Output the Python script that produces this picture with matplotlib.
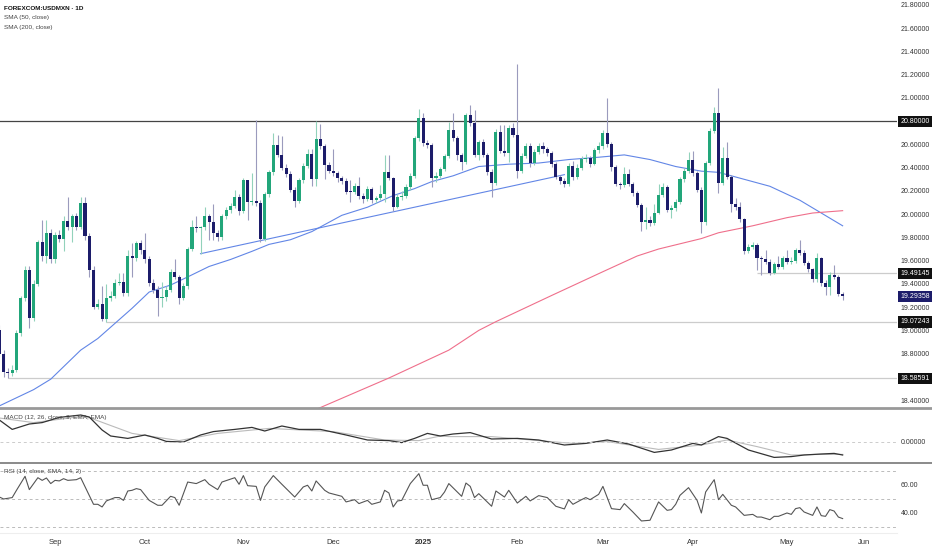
import numpy as np
import pandas as pd
import matplotlib
matplotlib.use('Agg')
import matplotlib.pyplot as plt
from matplotlib.lines import Line2D
from matplotlib.transforms import blended_transform_factory

# 1. Данные
dates = pd.bdate_range('2024-08-14', '2025-05-20')
dates = dates[~dates.isin(pd.to_datetime(['2024-12-25', '2025-01-01']))]

first_open = 19.00
closes = [
    18.80, 18.64, 18.63, 18.66, 18.98, 19.28, 19.52, 19.11, 19.40, 19.76,
    19.64, 19.84, 19.61, 19.82, 19.79, 19.94, 19.89, 19.98, 19.89, 20.10,
    19.81, 19.52, 19.20, 19.23, 19.10, 19.28, 19.30, 19.41, 19.42, 19.32,
    19.64, 19.62, 19.75, 19.69, 19.61, 19.41, 19.35, 19.275, 19.29, 19.35,
    19.50, 19.46, 19.28, 19.38, 19.70, 19.89, 19.88, 19.886, 19.98, 19.93,
    19.84, 19.80, 19.98, 20.035, 20.07, 20.15, 20.03, 20.29, 20.107, 20.11,
    20.10, 19.79, 20.17, 20.36, 20.595, 20.51, 20.40, 20.345, 20.21, 20.116,
    20.29, 20.414, 20.52, 20.30, 20.65, 20.586, 20.423, 20.374, 20.351, 20.308,
    20.288, 20.193, 20.19, 20.242, 20.156, 20.127, 20.214, 20.122, 20.136, 20.173,
    20.366, 20.308, 20.064, 20.15, 20.16, 20.236, 20.328, 20.652, 20.825, 20.609,
    20.595, 20.308, 20.33, 20.386, 20.50, 20.724, 20.653, 20.51, 20.452, 20.853,
    20.782, 20.509, 20.624, 20.509, 20.366, 20.271, 20.710, 20.546, 20.53, 20.738,
    20.681, 20.374, 20.503, 20.589, 20.437, 20.538, 20.586, 20.558, 20.523, 20.432,
    20.317, 20.288, 20.259, 20.414, 20.317, 20.40, 20.472, 20.48, 20.432, 20.552,
    20.586, 20.701, 20.604, 20.403, 20.259, 20.248, 20.346, 20.259, 20.18, 20.079,
    19.935, 19.95, 19.927, 20.013, 20.165, 20.236, 20.036, 20.05, 20.107, 20.30,
    20.374, 20.466, 20.351, 20.208, 19.935, 20.437, 20.718, 20.873, 20.265, 20.48,
    20.323, 20.087, 20.064, 19.955, 19.686, 19.72, 19.735, 19.62, 19.611, 19.591,
    19.496, 19.571, 19.548, 19.62, 19.59, 19.60, 19.69, 19.67, 19.577, 19.525,
    19.439, 19.62, 19.41, 19.376, 19.48, 19.46, 19.313, 19.29358]
highs = [
    19.05, 18.83, 18.68, 18.70, 19.00, 19.30, 19.55, 19.55, 19.43, 19.78,
    19.95, 19.95, 19.87, 19.85, 19.86, 19.98, 20.15, 20.00, 20.01, 20.15,
    20.15, 19.84, 19.55, 19.27, 19.38, 19.40, 19.34, 19.44, 19.49, 19.49,
    19.69, 19.75, 19.77, 19.78, 19.84, 19.64, 19.44, 19.38, 19.42, 19.38,
    19.53, 19.61, 19.48, 19.41, 19.72, 19.95, 19.98, 19.90, 20.06, 20.00,
    20.09, 19.86, 20.00, 20.06, 20.10, 20.21, 20.17, 20.31, 20.29, 20.357,
    20.81, 20.12, 20.19, 20.38, 20.695, 20.68, 20.67, 20.43, 20.37, 20.23,
    20.31, 20.44, 20.56, 20.56, 20.80, 20.78, 20.60, 20.45, 20.558, 20.37,
    20.33, 20.31, 20.294, 20.27, 20.317, 20.18, 20.24, 20.23, 20.16, 20.251,
    20.509, 20.509, 20.32, 20.17, 20.20, 20.26, 20.35, 20.67, 20.902, 20.868,
    20.64, 20.61, 20.36, 20.41, 20.52, 20.796, 20.868, 20.67, 20.53, 20.87,
    20.94, 20.896, 20.64, 20.65, 20.53, 20.39, 20.73, 20.767, 20.767, 20.767,
    20.782, 21.292, 20.53, 20.61, 20.61, 20.56, 20.61, 20.62, 20.58, 20.54,
    20.45, 20.34, 20.31, 20.44, 20.46, 20.43, 20.50, 20.52, 20.50, 20.57,
    20.62, 20.72, 20.997, 20.62, 20.42, 20.28, 20.403, 20.385, 20.28, 20.20,
    20.10, 20.064, 19.98, 20.087, 20.259, 20.265, 20.25, 20.08, 20.13, 20.32,
    20.40, 20.538, 20.546, 20.37, 20.23, 20.46, 20.74, 20.92, 21.083, 20.581,
    20.624, 20.34, 20.136, 20.107, 19.97, 19.74, 19.76, 19.75, 19.64, 19.692,
    19.61, 19.59, 19.640, 19.64, 19.692, 19.63, 19.71, 19.778, 19.69, 19.60,
    19.54, 19.663, 19.63, 19.43, 19.50, 19.562, 19.48, 19.33]
lows = [
    18.77, 18.60, 18.586, 18.61, 18.64, 18.95, 19.25, 19.02, 19.08, 19.38,
    19.60, 19.58, 19.58, 19.58, 19.76, 19.68, 19.86, 19.76, 19.86, 19.87,
    19.78, 19.46, 19.18, 19.18, 19.08, 19.072, 19.25, 19.28, 19.39, 19.30,
    19.30, 19.46, 19.60, 19.66, 19.58, 19.38, 19.32, 19.12, 19.20, 19.25,
    19.33, 19.44, 19.23, 19.26, 19.36, 19.68, 19.85, 19.66, 19.86, 19.78,
    19.78, 19.77, 19.78, 19.96, 20.01, 20.05, 19.99, 20.01, 19.95, 20.08,
    20.07, 19.76, 19.77, 20.15, 20.34, 20.49, 20.38, 20.32, 20.19, 20.064,
    20.10, 20.27, 20.40, 20.24, 20.24, 20.56, 20.30, 20.35, 20.33, 20.28,
    20.26, 20.17, 20.107, 20.17, 20.13, 20.10, 20.11, 20.10, 20.10, 20.12,
    20.107, 20.29, 20.030, 20.05, 20.12, 20.14, 20.21, 20.31, 20.63, 20.59,
    20.57, 20.236, 20.28, 20.31, 20.37, 20.48, 20.63, 20.47, 20.38, 20.43,
    20.76, 20.49, 20.466, 20.49, 20.34, 20.145, 20.25, 20.53, 20.50, 20.452,
    20.66, 20.308, 20.35, 20.48, 20.41, 20.42, 20.52, 20.53, 20.50, 20.41,
    20.30, 20.26, 20.23, 20.24, 20.29, 20.30, 20.38, 20.45, 20.41, 20.42,
    20.53, 20.56, 20.58, 20.374, 20.24, 20.22, 20.23, 20.24, 20.16, 20.06,
    19.858, 19.869, 19.90, 19.91, 20.00, 20.15, 20.02, 19.964, 20.03, 20.09,
    20.28, 20.35, 20.33, 20.19, 19.841, 19.91, 20.42, 20.70, 20.179, 20.25,
    20.30, 20.021, 20.04, 19.93, 19.657, 19.67, 19.70, 19.519, 19.476, 19.57,
    19.48, 19.485, 19.53, 19.53, 19.57, 19.57, 19.58, 19.65, 19.56, 19.50,
    19.42, 19.42, 19.382, 19.304, 19.304, 19.44, 19.30, 19.261]

# скользящие средние (точки по графику: индекс бара -> значение)
sma50_idx = [0, 8, 12, 19, 23, 27, 31, 35, 40, 44, 49, 54, 59, 63, 68, 73,
             80, 86, 92, 97, 101, 106, 112, 119, 126, 133, 140, 146, 152,
             158, 164, 168, 173, 180, 187, 192, 197]
sma50_val = [18.35, 18.49, 18.58, 18.83, 18.93, 19.06, 19.19, 19.33, 19.39,
             19.46, 19.55, 19.61, 19.68, 19.74, 19.78, 19.85, 19.99, 20.06,
             20.16, 20.22, 20.28, 20.33, 20.41, 20.43, 20.44, 20.47, 20.49,
             20.51, 20.47, 20.41, 20.37, 20.36, 20.31, 20.24, 20.12, 20.01, 19.90]
sma200_idx = [74, 91, 105, 112, 116, 129, 141, 149, 154, 164, 168, 176, 184, 190, 197]
sma200_val = [18.32, 18.59, 18.83, 19.00, 19.075, 19.30, 19.505, 19.64, 19.70,
              19.79, 19.84, 19.90, 19.97, 20.01, 20.03]

trend_idx = [47, 132]
trend_val = [19.66, 20.34]

levels = [20.80000, 19.49145, 19.07243, 18.58591]
level_start = [0, 177, 25, 2]

macd_idx = [0, 3, 7, 10, 14, 19, 21, 24, 26, 30, 34, 37, 39, 43, 47, 50, 55,
            59, 62, 66, 70, 75, 81, 86, 91, 94, 97, 100, 103, 106, 110, 115,
            121, 126, 132, 137, 142, 147, 153, 157, 162, 164, 168, 170, 175,
            181, 185, 188, 192, 195, 197]
macd_val = [0.110, 0.063, 0.090, 0.097, 0.123, 0.135, 0.125, 0.060, 0.030,
            0.018, 0.035, 0.018, 0.003, 0.000, 0.035, 0.052, 0.063, 0.073,
            0.055, 0.080, 0.063, 0.063, 0.035, 0.010, 0.007, -0.003, 0.018,
            0.043, 0.030, 0.040, 0.047, 0.015, 0.018, 0.010, -0.015, -0.007,
            0.010, -0.010, -0.052, -0.040, -0.007, -0.015, 0.027, 0.018,
            -0.040, -0.077, -0.073, -0.065, -0.060, -0.057, -0.065]
signal_idx = [0, 8, 20, 31, 42, 51, 63, 78, 90, 98, 103, 105, 115, 126, 134,
              142, 154, 164, 170, 177, 185, 192, 197]
signal_val = [0.120, 0.097, 0.130, 0.043, 0.007, 0.043, 0.068, 0.052, 0.010,
              0.007, 0.030, 0.027, 0.027, 0.007, -0.007, 0.002, -0.037, -0.015,
              0.010, -0.023, -0.065, -0.062, -0.062]

rsi_idx = [0, 1, 3, 4, 6, 7, 9, 10, 11, 12, 13, 14, 15, 16, 18, 19, 22, 23, 24,
           25, 27, 28, 29, 30, 31, 32, 33, 35, 37, 38, 40, 41, 42, 44, 46, 48,
           49, 51, 52, 55, 56, 57, 58, 60, 61, 62, 64, 66, 69, 71, 72, 73, 74,
           76, 77, 80, 81, 83, 84, 86, 87, 89, 90, 91, 92, 93, 94, 96, 98, 99,
           100, 101, 103, 104, 105, 108, 109, 110, 111, 112, 115, 116, 118,
           119, 121, 123, 124, 126, 128, 130, 132, 133, 134, 136, 137, 138,
           140, 141, 143, 145, 146, 148, 150, 152, 154, 156, 157, 158, 159,
           161, 163, 164, 165, 167, 168, 169, 171, 172, 174, 176, 177, 178,
           180, 181, 182, 184, 185, 186, 187, 188, 190, 191, 192, 193, 194,
           195, 196, 197]
rsi_val = [51.4, 50, 51, 56.2, 66.2, 56.7, 65.2, 63.3, 65, 61, 63.3, 62.9, 64.5,
           63.3, 63.8, 65.2, 46.2, 46.2, 44.3, 48.6, 51, 51, 49, 55.7, 56.2, 57.4,
           56.7, 49, 45.5, 45.5, 51.9, 51, 45.5, 62.1, 61, 63.8, 60.5, 56.7, 62.1,
           65.2, 60.5, 66.7, 59.5, 59, 49, 58.6, 66.7, 60.5, 51.4, 58.6, 59.8,
           55.7, 62.9, 56.2, 54.3, 51.9, 47.9, 49.5, 46.7, 49, 46.2, 47.9, 56.2,
           54.3, 44.3, 48.6, 49, 61, 68.1, 59.8, 59.8, 49.5, 51, 55, 61, 51.9,
           61.4, 59, 51, 53.8, 44.8, 55.7, 51.4, 56.2, 47.1, 51.9, 48.6, 52.4,
           51, 44.8, 42.9, 49.5, 46.2, 49.5, 51, 49.5, 53.3, 59, 43.1, 42.4,
           46.7, 40.7, 34.3, 34.8, 47.9, 41.9, 42.4, 46.2, 52.6, 58.1, 49, 40,
           55, 63.8, 49.5, 53.3, 45.5, 44.3, 38.3, 39, 37.1, 37.1, 35.2, 37.6,
           37.6, 40, 39, 43.1, 43.8, 40.7, 38.3, 44.3, 38.1, 37.6, 42.4, 41.4,
           37.1, 36]

# 2. Цвета
UP, DN = '#22a67a', '#1c1c6a'
WICK_UP, WICK_DN = '#92d2bb', '#9b9bbd'
BLUE, RED = '#6286e6', '#ef6f8b'

# 3. Фигура и панели (в пикселях)
W, H = 932, 550
fig = plt.figure(figsize=(W / 100, H / 100), dpi=100)
plt.rcParams['font.family'] = ['Liberation Sans', 'DejaVu Sans']


def pane(top, bottom):
    return fig.add_axes([0, 1 - bottom / H, 897 / W, (bottom - top) / H])


ax = pane(0, 408)
ax_macd = pane(408, 463)
ax_rsi = pane(463, 533)

x = np.arange(len(closes))
c = np.array(closes)
o = np.array([first_open] + closes[:-1])
hi, lo = np.array(highs), np.array(lows)
up = c >= o
xmax = 209.7

# 4. Свечи и линии
ax.plot(sma50_idx, sma50_val, color=BLUE, lw=0.8, zorder=1)
ax.plot(sma200_idx, sma200_val, color=RED, lw=0.8, zorder=1)
ax.plot(trend_idx, trend_val, color=BLUE, lw=0.8, zorder=1)
for lev, st in zip(levels, level_start):
    col = '#444444' if lev == levels[0] else '#cccccc'
    ax.hlines(lev, st, xmax, color=col, lw=0.9, zorder=0.5)

ax.vlines(x[up], lo[up], hi[up], color=WICK_UP, lw=0.8, zorder=2)
ax.vlines(x[~up], lo[~up], hi[~up], color=WICK_DN, lw=0.8, zorder=2)
bottom = np.minimum(o, c)
height = np.maximum(np.abs(c - o), 0.007)
ax.bar(x[up], height[up], bottom=bottom[up], width=0.72, color=UP, lw=0, zorder=3)
ax.bar(x[~up], height[~up], bottom=bottom[~up], width=0.72, color=DN, lw=0, zorder=3)

ax.set_xlim(0.15, xmax)
ax.set_ylim(18.332, 21.843)
ax.yaxis.tick_right()
ax.set_yticks(np.arange(18.4, 21.81, 0.2))
ax.yaxis.set_major_formatter(plt.FormatStrFormatter('%.5f'))

# ценовые метки справа
tr = blended_transform_factory(ax.transAxes, ax.transData)
for lev in levels:
    ax.annotate(f'{lev:.5f}', xy=(1, lev), xycoords=tr, xytext=(2.5, 0),
                textcoords='offset points', va='center', ha='left', fontsize=5,
                color='white', annotation_clip=False, zorder=5,
                bbox=dict(boxstyle='square,pad=0.3', fc='#111111', ec='none'))
ax.annotate(f'{closes[-1]:.5f}', xy=(1, closes[-1]), xycoords=tr, xytext=(2.5, 0),
            textcoords='offset points', va='center', ha='left', fontsize=5,
            color='white', annotation_clip=False, zorder=5,
            bbox=dict(boxstyle='square,pad=0.3', fc=DN, ec='none'))

# MACD
ax_macd.plot(signal_idx, signal_val, color='#bbbbbb', lw=0.8)
ax_macd.plot(macd_idx, macd_val, color='#333333', lw=0.9)
ax_macd.axhline(0, color='#cccccc', lw=0.7, ls=(0, (3, 3)))
ax_macd.set_xlim(0.15, xmax)
ax_macd.set_ylim(-0.105, 0.17)
ax_macd.yaxis.tick_right()
ax_macd.set_yticks([0])
ax_macd.yaxis.set_major_formatter(plt.FormatStrFormatter('%.5f'))

# RSI
for lev in (70, 50, 30):
    ax_rsi.axhline(lev, color='#bbbbbb', lw=0.7, ls=(0, (3, 3)))
ax_rsi.plot(rsi_idx, rsi_val, color='#555555', lw=0.8)
ax_rsi.set_xlim(0.15, xmax)
ax_rsi.set_ylim(25.7, 75.7)
ax_rsi.yaxis.tick_right()
ax_rsi.set_yticks([40, 60])
ax_rsi.yaxis.set_major_formatter(plt.FormatStrFormatter('%.2f'))

# ось дат: первый бар каждого месяца
d = pd.Series(dates)
first = d.groupby(d.dt.to_period('M')).head(1).index.tolist()[1:]
labels = ['2025' if dates[i].month == 1 else dates[i].strftime('%b') for i in first]
first.append(len(closes) - 1 + 5)
labels.append('Jun')
ax_rsi.set_xticks(first)
ax_rsi.set_xticklabels(labels)
for t in ax_rsi.get_xticklabels():
    if t.get_text() == '2025':
        t.set_fontweight('bold')

for a in (ax, ax_macd, ax_rsi):
    for s in a.spines.values():
        s.set_visible(False)
    a.tick_params(axis='y', length=0, pad=2.5, labelsize=5, labelcolor='#333333')
    a.tick_params(axis='x', length=0, pad=4, labelsize=5.5, labelcolor='#333333')
    a.set_facecolor('none')
ax.set_xticks([])
ax_macd.set_xticks([])

# разделители панелей
fig.add_artist(Line2D([0, 1], [1 - 408 / H] * 2, color='#999999', lw=2))
fig.add_artist(Line2D([0, 1], [1 - 463 / H] * 2, color='#777777', lw=1.2))
fig.add_artist(Line2D([0, 897 / W], [1 - 533 / H] * 2, color='#eeeeee', lw=0.8))

# подписи
fig.text(4 / W, 1 - 9 / H, 'FOREXCOM:USDMXN · 1D', fontsize=4.6, weight='bold',
         color='#131313', va='center')
fig.text(4 / W, 1 - 18 / H, 'SMA (50, close)', fontsize=4.6, color='#444444', va='center')
fig.text(4 / W, 1 - 27 / H, 'SMA (200, close)', fontsize=4.6, color='#444444', va='center')
fig.text(4 / W, 1 - 418 / H, 'MACD (12, 26, close, 9, EMA, EMA)', fontsize=4.6,
         color='#444444', va='center')
fig.text(4 / W, 1 - 472 / H, 'RSI (14, close, SMA, 14, 2)', fontsize=4.6,
         color='#444444', va='center')

fig.savefig('out.png', dpi=100, facecolor='white')
